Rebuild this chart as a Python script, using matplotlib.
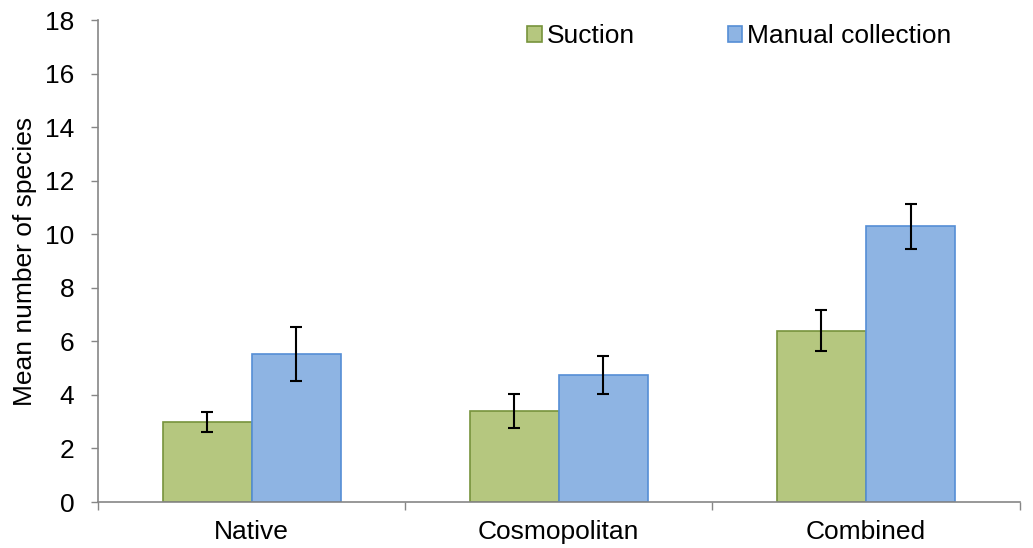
import matplotlib
matplotlib.use("Agg")
import matplotlib.pyplot as plt
import numpy as np
from matplotlib.ticker import FixedLocator, NullFormatter

plt.rcParams['font.family'] = ['Liberation Sans', 'DejaVu Sans']

categories = ["Native", "Cosmopolitan", "Combined"]
series_names = ["Suction", "Manual collection"]
suction = [3.0, 3.4, 6.4]
suction_err = [0.38, 0.64, 0.77]
manual = [5.53, 4.76, 10.29]
manual_err = [1.0, 0.71, 0.85]
yticks = [0, 2, 4, 6, 8, 10, 12, 14, 16, 18]

fs = 19
fig = plt.figure(figsize=(10.33, 5.48), dpi=100)
ax = fig.add_axes([0.0949, 0.0839, 0.8921, 0.8796])

x = np.arange(len(categories))
w = 0.29
gray = "#868686"
ax.bar(x - w/2, suction, w, color="#B5C77F", edgecolor="#77933C", linewidth=1.2,
       label=series_names[0], zorder=2)
ax.bar(x + w/2, manual, w, color="#8EB4E3", edgecolor="#558ED5", linewidth=1.2,
       label=series_names[1], zorder=2)
ax.errorbar(x - w/2, suction, yerr=suction_err, fmt="none", ecolor="black",
            elinewidth=1.5, capsize=4.3, capthick=1.5, zorder=3)
ax.errorbar(x + w/2, manual, yerr=manual_err, fmt="none", ecolor="black",
            elinewidth=1.5, capsize=4.3, capthick=1.5, zorder=3)

ax.set_xlim(-0.5, len(categories) - 0.5)
ax.set_ylim(0, 18)
ax.set_yticks(yticks)
ax.set_xticks(x)
ax.set_xticklabels(categories, fontsize=fs)
ax.tick_params(axis='x', which='major', length=0, pad=13)
ax.xaxis.set_minor_locator(FixedLocator(np.arange(-0.5, len(categories), 1.0)))
ax.xaxis.set_minor_formatter(NullFormatter())
ax.tick_params(axis='x', which='minor', length=6, color=gray, width=1)
ax.tick_params(axis='y', labelsize=fs, length=5, color=gray, width=1, pad=12)

for s in ["top", "right"]:
    ax.spines[s].set_visible(False)
for s in ["left", "bottom"]:
    ax.spines[s].set_color(gray)
    ax.spines[s].set_linewidth(1.2)

ax.set_ylabel("Mean number of species", fontsize=fs, labelpad=6)

ax.legend(loc="upper right", bbox_to_anchor=(0.952, 1.04), ncol=2, frameon=False,
          fontsize=fs, handlelength=0.55, handleheight=0.55, handletextpad=0.2,
          columnspacing=3.5)

fig.savefig("out.png", dpi=100)
